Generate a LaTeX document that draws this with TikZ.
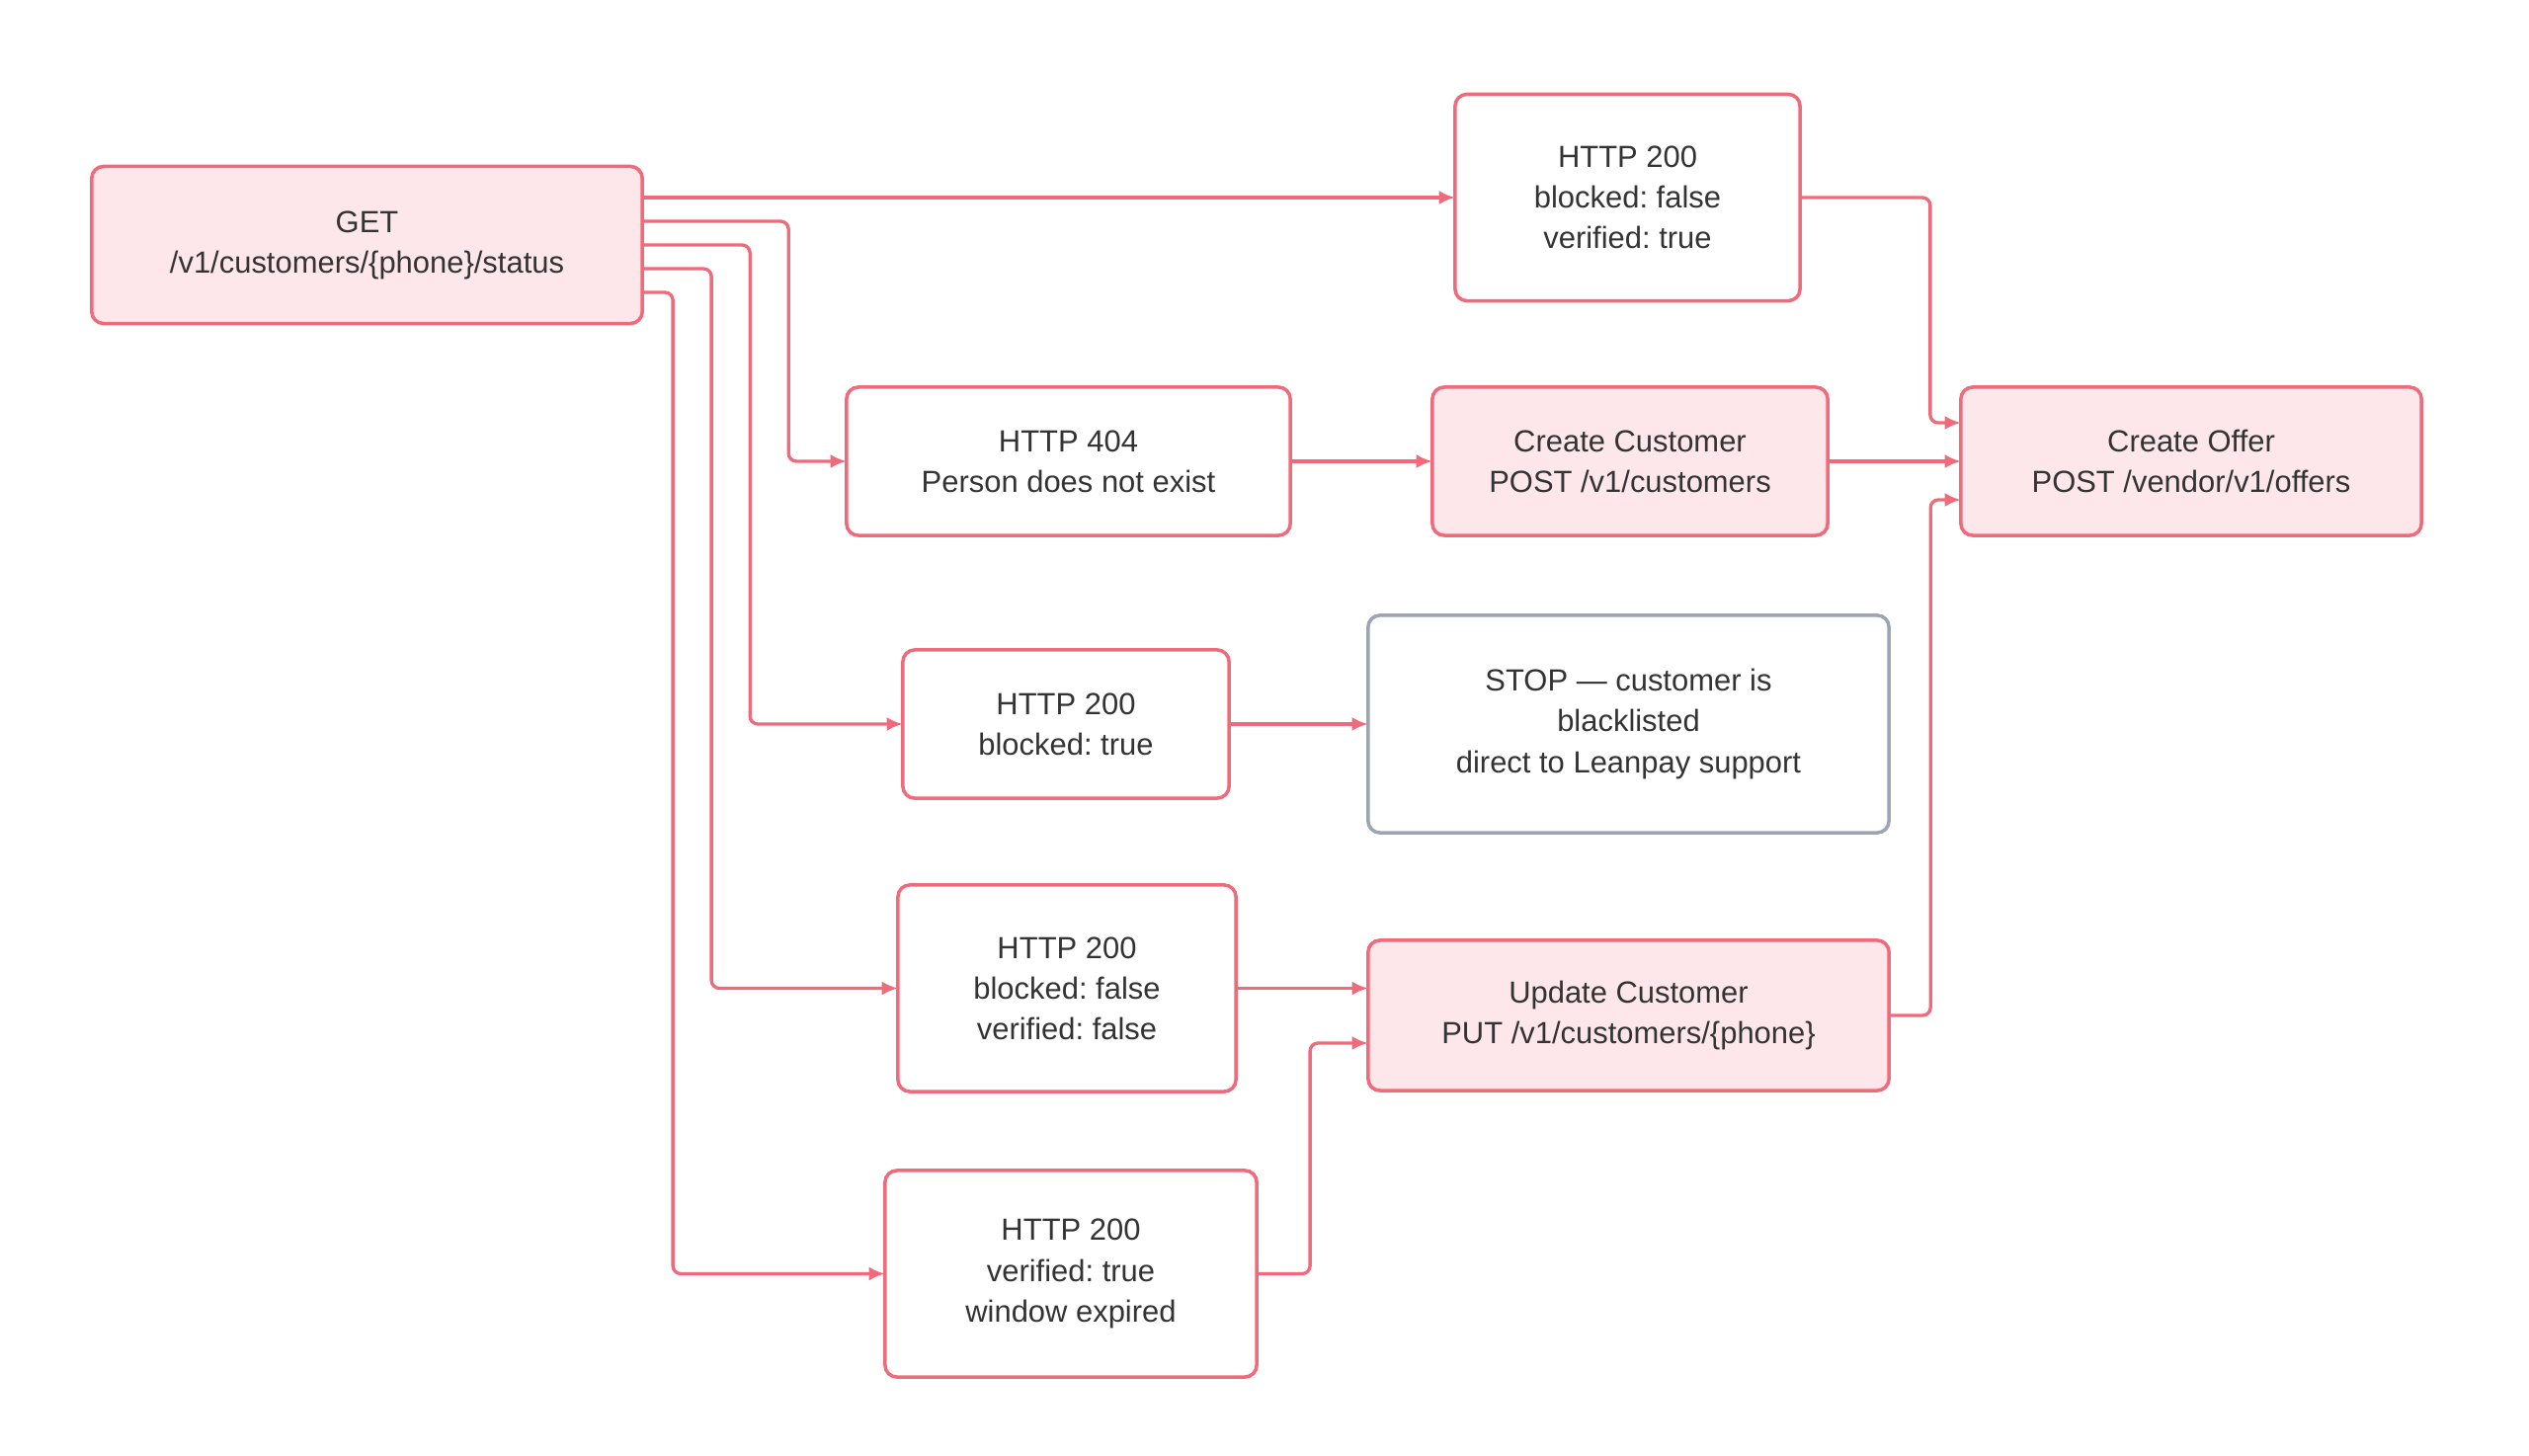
\documentclass[tikz,border=0pt]{standalone}
\usepackage{fontspec}
\setmainfont{Liberation Sans}
\frenchspacing
\usetikzlibrary{calc,arrows.meta}
\definecolor{edgered}{HTML}{EF6B7C}
\definecolor{callpink}{HTML}{FDE7EA}
\definecolor{stopgrey}{HTML}{9BA5B3}
\definecolor{txtgrey}{HTML}{333333}
\tikzset{
	box/.style={draw=edgered, line width=1pt, rounded corners=0.12cm, align=center, text=txtgrey, inner sep=0pt, outer sep=0pt, font=\fontsize{8.8}{11.7}\selectfont},
	callbox/.style={box, fill=callpink},
	stopbox/.style={box, draw=stopgrey},
	link/.style={edgered, line width=0.95pt, rounded corners=0.08cm, -{Latex[length=4.6pt,width=4pt]}},
}

\begin{document}
\begin{tikzpicture}[x=0.01cm, y=-0.01cm]
			%%%%% START %%%%%
			
			\useasboundingbox (0, 0) rectangle (2560, 1474);
			
			\node[callbox, minimum width=5.57cm, minimum height=1.59cm] (get) at (371.5, 248) {GET\\/v1/customers/\{phone\}/status};
			
			\node[box, minimum width=3.49cm, minimum height=2.09cm] (ok) at (1647.5, 200) {HTTP 200\\blocked: false\\verified: true};
			\node[box, minimum width=4.49cm, minimum height=1.5cm] (missing) at (1081.5, 467) {HTTP 404\\Person does not exist};
			\node[callbox, minimum width=4cm, minimum height=1.5cm] (create) at (1650, 467) {Create Customer\\POST /v1/customers};
			\node[callbox, minimum width=4.66cm, minimum height=1.5cm] (offer) at (2218, 467) {Create Offer\\POST /vendor/v1/offers};
			
			\node[box, minimum width=3.3cm, minimum height=1.5cm] (blocked) at (1079, 733) {HTTP 200\\blocked: true};
			\node[stopbox, minimum width=5.27cm, minimum height=2.2cm] (stop) at (1648.5, 733) {STOP --- customer is\\blacklisted\\direct to Leanpay support};
			
			\node[box, minimum width=3.42cm, minimum height=2.09cm] (unverified) at (1080, 1000.5) {HTTP 200\\blocked: false\\verified: false};
			\node[callbox, minimum width=5.27cm, minimum height=1.52cm] (update) at (1648.5, 1028) {Update Customer\\PUT /v1/customers/\{phone\}};
			\node[box, minimum width=3.76cm, minimum height=2.09cm] (expired) at (1084, 1289.5) {HTTP 200\\verified: true\\window expired};
			
			% fan out of the status call
			\draw[link] ($(get.east)+(0,-48)$) -- (ok);
			\draw[link] ($(get.east)+(0,-24)$) -- ++(148, 0) |- (missing);
			\draw[link] ($(get.east)+(0,0)$) -- ++(109, 0) |- (blocked);
			\draw[link] ($(get.east)+(0,24)$) -- ++(70, 0) |- (unverified);
			\draw[link] ($(get.east)+(0,48)$) -- ++(31, 0) |- (expired);
			
			% second column
			\draw[link] (missing) -- (create);
			\draw[link] (blocked) -- (stop);
			\draw[link] (unverified.east) -- (unverified.east -| update.west);
			\draw[link] (expired.east) -- ++(54, 0) |- ($(update.west)+(0,28)$);
			
			% into the offer
			\draw[link] (ok.east) -| ($(offer.west)+(-31,-39)$) -- ($(offer.west)+(0,-39)$);
			\draw[link] (create) -- (offer);
			\draw[link] (update.east) -- ++(42, 0) |- ($(offer.west)+(0,39)$);
			
			%%%%% END %%%%%
\end{tikzpicture}
\end{document}
